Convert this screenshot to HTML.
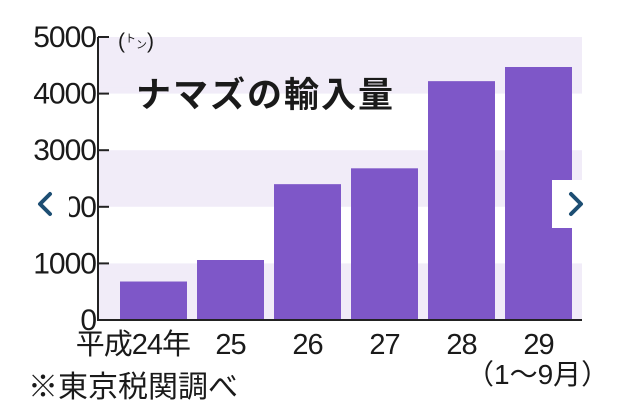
<!DOCTYPE html>
<html><head><meta charset="utf-8">
<style>
html,body{margin:0;padding:0;background:#fff;}
svg{display:block;}
text{font-family:"Liberation Sans","Noto Sans CJK JP",sans-serif;fill:#1a1a1a;}
</style></head>
<body>
<svg id="chart" width="620" height="412" viewBox="0 0 620 412">
<g id="bands"></g>
<g id="bars"></g>
<g id="axis"></g>
<g id="xlabels"></g>
<text x="118" y="48" font-size="21">(<tspan font-size="11" dy="-6">ト</tspan><tspan font-size="11" dy="6">ン</tspan>)</text>
<text x="136" y="107" font-size="35" font-weight="bold" letter-spacing="2">ナマズの輸入量</text>
<text x="466" y="384" font-size="28">（1～9月）</text>
<text x="28" y="397" font-size="30">※東京税関調べ</text>
<rect x="22" y="180" width="47" height="48" fill="#fff"/>
<path d="M50 194 L40 204 L50 214" fill="none" stroke="#1d4e73" stroke-width="4" stroke-linecap="round" stroke-linejoin="round"/>
<rect x="552" y="180" width="48" height="48" fill="#fff"/>
<path d="M571 194 L581 204 L571 214" fill="none" stroke="#1d4e73" stroke-width="4" stroke-linecap="round" stroke-linejoin="round"/>
</svg>
<script>
const categories = ["平成24年","25","26","27","28","29"];
const values = [680, 1060, 2400, 2680, 4220, 4470];
const ticks = [0,1000,2000,3000,4000,5000];

const NS = "http://www.w3.org/2000/svg";
const y0 = 320, yTop = 37, maxV = 5000;
const xLeft = 98, xRight = 582;
function y(v){ return y0 - (v / maxV) * (y0 - yTop); }
const step = 77, barW = 67, firstX = 120;
function x(i){ return firstX + i * step; }
function mk(tag, attrs, parent){ const e = document.createElementNS(NS, tag); for (const k in attrs) e.setAttribute(k, attrs[k]); parent.appendChild(e); return e; }

const bands = document.getElementById('bands');
for (let i = 0; i < ticks.length - 1; i += 2) {
  const lo = ticks[i], hi = ticks[i+1];
  const r = mk('rect', {x: xLeft, y: y(hi), width: xRight - xLeft, height: y(lo) - y(hi), fill: '#f1ecf8'}, bands);
  
  
}
const tb = mk('rect', {x: xLeft, y: y(5000), width: xRight - xLeft, height: y(4000) - y(5000) - 6, fill: '#f1ecf8'}, bands);



const bars = document.getElementById('bars');
values.forEach((v, i) => {
  const r = mk('rect', {x: x(i), y: y(v), width: barW, height: y0 - y(v), fill: '#7e57c8'}, bars);
  
  
});

const axis = document.getElementById('axis');
mk('line', {x1: xLeft, y1: y(5000), x2: xLeft, y2: y0 + 1, stroke: '#222', 'stroke-width': 2}, axis);
mk('line', {x1: xLeft, y1: y0, x2: xRight, y2: y0, stroke: '#222', 'stroke-width': 2}, axis);
ticks.forEach(t => {
  mk('line', {x1: xLeft, y1: y(t), x2: xLeft + 11, y2: y(t), stroke: '#222', 'stroke-width': 2}, axis);
  const tx = mk('text', {x: xLeft - 2, y: y(t) + 10, 'font-size': 30, 'text-anchor': 'end', 'letter-spacing': '-1'}, axis);
  tx.textContent = t;
  
  
});

const xl = document.getElementById('xlabels');
categories.forEach((c, i) => {
  const cx = i === 0 ? x(i) + barW + 3 : x(i) + barW / 2;
  const tx = mk('text', {x: cx, y: 354, 'font-size': 29, 'text-anchor': i === 0 ? 'end' : 'middle', 'letter-spacing': '-1'}, xl);
  tx.textContent = c;
  
  
});
</script>
</body></html>
